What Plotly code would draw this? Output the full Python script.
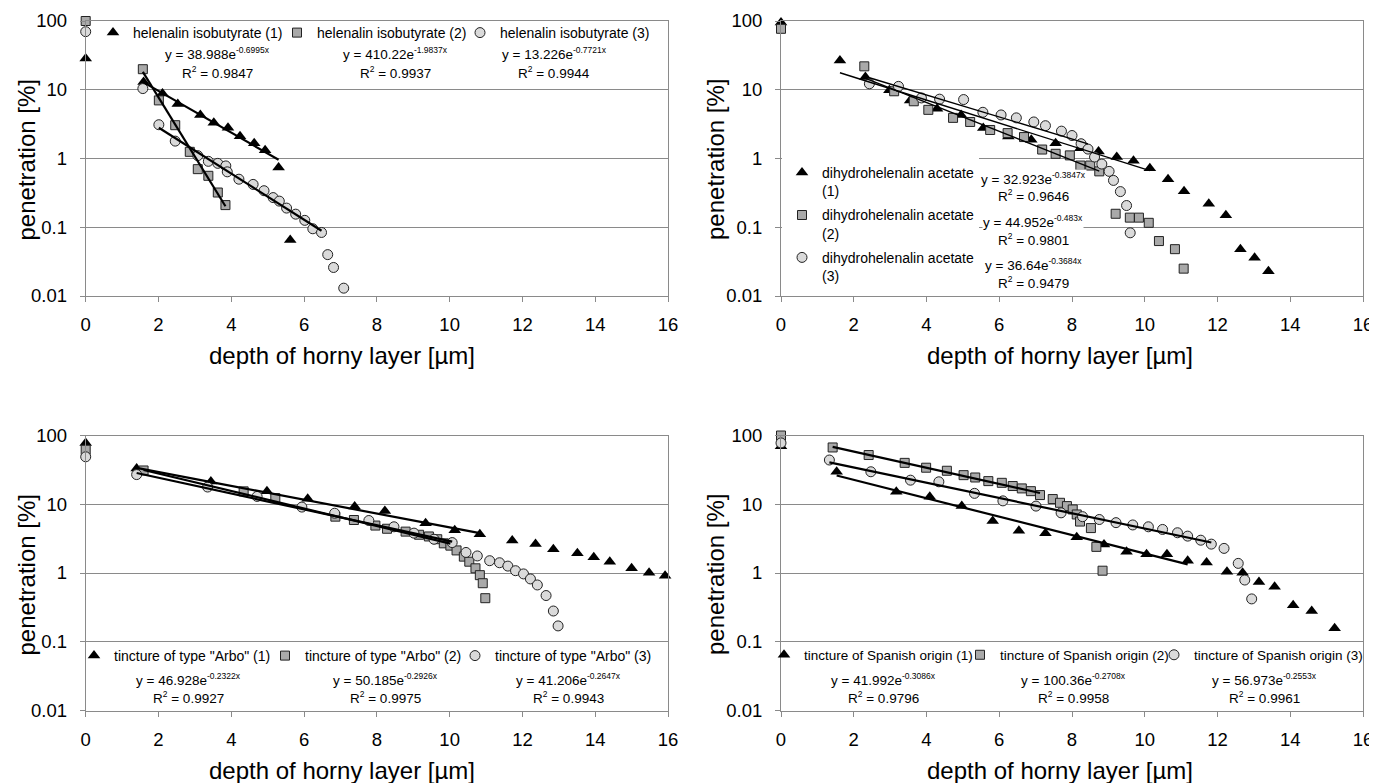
import numpy as np
import plotly.graph_objects as go

# The page body has an 8 px margin, so the figure is drawn 8 px in from the
# window corner; the figure is sized to fill the rest of the 1377x783 window.
OFF = 8
W, H = 1377 - OFF, 783 - OFF
FONT = "Liberation Sans, Arial, sans-serif"
GRID = "#8a8a8a"

# ---------------- data ----------------
x_ticks = [0, 2, 4, 6, 8, 10, 12, 14, 16]
y_ticks = [0.01, 0.1, 1, 10, 100]
y_ticktext = ["0.01", "0.1", "1", "10", "100"]

# Panel A: helenalin isobutyrate
hi_names = ["helenalin isobutyrate (1)", "helenalin isobutyrate (2)", "helenalin isobutyrate (3)"]
hi1_x = [0, 1.59, 2.11, 2.53, 3.15, 3.52, 3.91, 4.24, 4.63, 4.93, 5.30, 5.62]
hi1_y = [28.4, 13.0, 8.8, 6.2, 4.3, 3.3, 2.8, 2.1, 1.66, 1.32, 0.74, 0.065]
hi2_x = [0, 1.57, 2.01, 2.46, 2.86, 3.08, 3.37, 3.63, 3.84]
hi2_y = [100, 19.9, 7.0, 3.05, 1.25, 0.70, 0.56, 0.32, 0.21]
hi3_x = [0, 1.57, 2.01, 2.46, 3.08, 3.37, 3.63, 3.85, 3.89, 4.21, 4.60, 4.90, 5.15,
         5.32, 5.52, 5.77, 6.02, 6.24, 6.48, 6.65, 6.81, 7.09]
hi3_y = [70, 10.4, 3.1, 1.79, 1.1, 0.91, 0.85, 0.78, 0.64, 0.50, 0.42, 0.34, 0.27,
         0.24, 0.19, 0.155, 0.126, 0.095, 0.084, 0.040, 0.026, 0.013]
hi_fit_a = [38.988, 410.22, 13.226]
hi_fit_b = [-0.6995, -1.9837, -0.7721]
hi_fit_r2 = ["0.9847", "0.9937", "0.9944"]
hi_fit_from = [1.59, 1.57, 2.01]
hi_fit_to = [5.30, 3.84, 6.48]

# Panel B: dihydrohelenalin acetate
dh_names = ["dihydrohelenalin acetate<br>(1)", "dihydrohelenalin acetate<br>(2)",
            "dihydrohelenalin acetate<br>(3)"]
dh1_x = [0, 1.62, 2.32, 2.98, 3.55, 4.29, 4.95, 5.56, 6.25, 6.88, 7.55, 8.23, 8.73, 9.23,
         9.69, 10.14, 10.64, 11.08, 11.76, 12.23, 12.63, 13.02, 13.40]
dh1_y = [95, 26.7, 15.3, 9.8, 7.0, 5.3, 4.3, 2.77, 2.09, 1.87, 1.67, 1.41, 1.26, 1.05,
         0.93, 0.72, 0.50, 0.335, 0.22, 0.15, 0.048, 0.036, 0.023]
dh2_x = [0, 2.29, 3.11, 3.65, 4.05, 4.73, 5.20, 5.75, 6.23, 6.68, 7.18, 7.55, 7.94, 8.23,
         8.50, 8.75, 9.20, 9.59, 9.84, 10.11, 10.39, 10.83, 11.07]
dh2_y = [77, 21.9, 9.5, 6.8, 5.1, 3.9, 3.4, 2.6, 2.34, 2.05, 1.35, 1.17, 1.11, 0.79,
         0.79, 0.65, 0.157, 0.138, 0.138, 0.116, 0.063, 0.048, 0.025]
dh3_x = [2.43, 3.23, 3.86, 4.36, 5.02, 5.55, 6.05, 6.47, 6.95, 7.27, 7.71, 8.00, 8.25,
         8.44, 8.62, 8.82, 9.02, 9.14, 9.33, 9.50, 9.60]
dh3_y = [12.2, 11.2, 7.6, 7.3, 7.2, 4.7, 4.3, 3.9, 3.4, 3.0, 2.5, 2.16, 1.64, 1.37,
         1.05, 0.83, 0.65, 0.48, 0.33, 0.207, 0.083]
dh_fit_a = [32.923, 44.952, 36.64]
dh_fit_b = [-0.3847, -0.483, -0.3684]
dh_fit_r2 = ["0.9646", "0.9801", "0.9479"]
dh_fit_from = [1.62, 2.29, 2.43]
dh_fit_to = [10.14, 8.75, 8.44]

# Panel C: tincture of type "Arbo"
ta_names = ['tincture of type "Arbo" (1)', 'tincture of type "Arbo" (2)',
            'tincture of type "Arbo" (3)']
ta1_x = [0, 1.40, 3.44, 4.98, 6.10, 7.39, 8.22, 9.34, 10.14, 10.83, 11.72, 12.36, 12.85,
         13.51, 13.96, 14.40, 15.0, 15.48, 15.92]
ta1_y = [78, 33, 21.5, 15.4, 12.0, 9.3, 8.0, 5.3, 4.2, 3.67, 2.97, 2.65, 2.22, 1.94, 1.70,
         1.46, 1.17, 1.01, 0.91]
ta2_x = [0, 1.59, 4.34, 5.21, 6.86, 7.37, 7.96, 8.28, 8.79, 9.16, 9.43, 9.66, 9.84, 10.02,
         10.19, 10.39, 10.54, 10.71, 10.83, 10.91, 10.98]
ta2_y = [62, 31, 15.4, 12.3, 6.6, 5.9, 4.9, 4.4, 4.0, 3.6, 3.4, 3.1, 2.7, 2.5, 2.13, 1.73,
         1.46, 1.17, 0.93, 0.71, 0.43]
ta3_x = [0, 1.40, 3.35, 4.71, 5.94, 6.84, 7.78, 8.47, 9.02, 9.57, 10.07, 10.45, 10.76,
         11.10, 11.37, 11.60, 11.81, 12.03, 12.22, 12.41, 12.65, 12.85, 12.98]
ta3_y = [49, 27, 17.8, 13.0, 9.1, 7.4, 5.8, 4.7, 3.8, 3.1, 2.77, 1.99, 1.77, 1.51, 1.41,
         1.26, 1.08, 0.97, 0.82, 0.67, 0.47, 0.28, 0.17]
ta_fit_a = [46.928, 50.185, 41.206]
ta_fit_b = [-0.2322, -0.2926, -0.2647]
ta_fit_r2 = ["0.9927", "0.9975", "0.9943"]
ta_fit_from = [1.40, 1.59, 1.40]
ta_fit_to = [10.83, 10.02, 10.07]

# Panel D: tincture of Spanish origin
ts_names = ["tincture of Spanish origin (1)", "tincture of Spanish origin (2)",
            "tincture of Spanish origin (3)"]
ts1_x = [0, 1.53, 3.17, 4.09, 4.97, 5.82, 6.54, 7.27, 8.13, 8.88, 9.50, 10.05, 10.61,
         11.18, 11.70, 12.26, 12.69, 13.14, 13.57, 14.08, 14.59, 15.22]
ts1_y = [70, 29.7, 15.2, 12.9, 9.4, 5.7, 4.1, 3.8, 3.3, 2.6, 2.04, 1.88, 1.88, 1.51, 1.42,
         1.04, 1.01, 0.74, 0.63, 0.34, 0.28, 0.157]
ts2_x = [0, 1.42, 2.41, 3.40, 3.99, 4.56, 5.02, 5.34, 5.70, 6.07, 6.37, 6.62, 6.87, 7.12,
         7.47, 7.67, 7.86, 8.02, 8.13, 8.22, 8.52, 8.67, 8.84]
ts2_y = [100, 67, 52, 40, 34, 30.7, 26.5, 24.5, 21.7, 20.5, 18.4, 17.0, 15.5, 13.6, 11.9,
         10.5, 9.4, 8.4, 7.1, 5.6, 4.5, 2.4, 1.08]
ts3_x = [0, 1.33, 2.47, 3.56, 4.34, 5.32, 6.10, 7.01, 7.70, 8.29, 8.75, 9.21, 9.67, 10.10,
         10.49, 10.90, 11.18, 11.54, 11.83, 12.18, 12.57, 12.75, 12.94]
ts3_y = [78, 44, 29.7, 22.4, 21.2, 14.4, 11.2, 9.4, 7.5, 6.6, 6.0, 5.4, 5.0, 4.7, 4.3, 3.85,
         3.44, 3.0, 2.63, 2.28, 1.38, 0.79, 0.42]
ts_fit_a = [41.992, 100.36, 56.973]
ts_fit_b = [-0.3086, -0.2708, -0.2553]
ts_fit_r2 = ["0.9796", "0.9958", "0.9961"]
ts_fit_from = [1.53, 1.42, 1.33]
ts_fit_to = [11.18, 7.12, 11.83]

x_title = "depth of horny layer [µm]"
y_title = "penetration [%]"


# ---------------- layout helpers (window pixels -> paper fractions) ----------------
def px(x):
    return (x - OFF) / W


def py(y):
    return 1 - (y - OFF) / H


MARKERS = [
    dict(symbol="triangle-up", size=11, color="black", line=dict(width=0)),
    dict(symbol="square", size=9, color="#a9a9a9", line=dict(width=1, color="#222")),
    dict(symbol="circle", size=10, color="#dadada", line=dict(width=1, color="#222")),
]

legends = {}

panels = [
    dict(names=hi_names, xs=[hi1_x, hi2_x, hi3_x], ys=[hi1_y, hi2_y, hi3_y],
         a=hi_fit_a, b=hi_fit_b, r2=hi_fit_r2, x0=hi_fit_from, x1=hi_fit_to,
         ax="", lw=2.2, leg_x=[93, 277, 460], leg_y=33, leg_fs=14,
         eq_pos=[(217, 53), (395, 53), (554, 53)], eq_dy=19.5),
    dict(names=dh_names, xs=[dh1_x, dh2_x, dh3_x], ys=[dh1_y, dh2_y, dh3_y],
         a=dh_fit_a, b=dh_fit_b, r2=dh_fit_r2, x0=dh_fit_from, x1=dh_fit_to,
         ax="2", lw=1.4, leg_x=None, leg_fs=14,
         eq_pos=[(1033, 178), (1033, 221.5), (1033, 265)], eq_dy=17.5),
    dict(names=ta_names, xs=[ta1_x, ta2_x, ta3_x], ys=[ta1_y, ta2_y, ta3_y],
         a=ta_fit_a, b=ta_fit_b, r2=ta_fit_r2, x0=ta_fit_from, x1=ta_fit_to,
         ax="3", lw=2.2, leg_x=[74, 265, 455], leg_y=656, leg_fs=14,
         eq_pos=[(188, 679), (385, 679), (568, 679)], eq_dy=18),
    dict(names=ts_names, xs=[ts1_x, ts2_x, ts3_x], ys=[ts1_y, ts2_y, ts3_y],
         a=ts_fit_a, b=ts_fit_b, r2=ts_fit_r2, x0=ts_fit_from, x1=ts_fit_to,
         ax="4", lw=2.2, leg_x=[764, 960, 1154], leg_y=655, leg_fs=13.5,
         eq_pos=[(883, 679), (1073, 679), (1264, 679)], eq_dy=18),
]

fig = go.Figure()
annotations = []
leg_counter = 2  # "legend" is the vertical legend of panel B

for p in panels:
    xa = "x" + p["ax"]
    ya = "y" + p["ax"]
    lfont = dict(family=FONT, size=p["leg_fs"], color="black")
    for i in range(3):
        if p["leg_x"] is None:
            leg_id = "legend"
        else:
            leg_id = f"legend{leg_counter}"
            leg_counter += 1
            legends[leg_id] = dict(
                orientation="h", x=px(p["leg_x"][i]), y=py(p["leg_y"]),
                xanchor="left", yanchor="middle", xref="paper", yref="paper",
                bgcolor="rgba(0,0,0,0)", font=lfont, itemwidth=30)
        fig.add_trace(go.Scatter(
            x=p["xs"][i], y=p["ys"][i], mode="markers", name=p["names"][i],
            marker=MARKERS[i], xaxis=xa, yaxis=ya, legend=leg_id,
            legendgroup=f"{xa}_{i}", cliponaxis=False,
        ))
    for i in range(3):
        fx = np.array([p["x0"][i], p["x1"][i]])
        fy = p["a"][i] * np.exp(p["b"][i] * fx)
        fig.add_trace(go.Scatter(
            x=fx, y=fy, mode="lines", line=dict(color="black", width=p["lw"]),
            xaxis=xa, yaxis=ya, showlegend=False, hoverinfo="skip",
        ))
    for i in range(3):
        cx, cy = p["eq_pos"][i]
        annotations.append(dict(
            x=px(cx), y=py(cy), xref="paper", yref="paper", showarrow=False,
            text=f"y = {p['a'][i]}e<sup><span style='font-size:8.5px'>{p['b'][i]}x</span></sup>",
            font=dict(family=FONT, size=13.5, color="black"),
            bgcolor="white", borderpad=0, xanchor="center", yanchor="middle",
        ))
        annotations.append(dict(
            x=px(cx), y=py(cy + p["eq_dy"]), xref="paper", yref="paper", showarrow=False,
            text=f"R<sup><span style='font-size:8.5px'>2</span></sup> = {p['r2'][i]}",
            font=dict(family=FONT, size=13.5, color="black"),
            bgcolor="white", borderpad=0, xanchor="center", yanchor="middle",
        ))

# axis titles (centred on each chart area, as in the original)
for (tx, ty) in [(342, 356), (1060, 356), (342, 770), (1060, 770)]:
    annotations.append(dict(x=px(tx), y=py(ty), xref="paper", yref="paper", showarrow=False,
                            text=x_title, font=dict(family=FONT, size=24, color="black"),
                            xanchor="center", yanchor="middle"))
for (tx, ty) in [(25.5, 160), (715, 160), (25.5, 575), (715, 575)]:
    annotations.append(dict(x=px(tx), y=py(ty), xref="paper", yref="paper", showarrow=False,
                            text=y_title, textangle=-90,
                            font=dict(family=FONT, size=24, color="black"),
                            xanchor="center", yanchor="middle"))

xdom_left = [px(85.7), px(668)]
xdom_right = [px(781), px(1363)]
ydom_top = [py(296), py(21)]
ydom_bot = [py(710.5), py(435.5)]


def xaxis(dom, anchor):
    return dict(domain=dom, anchor=anchor, range=[0, 16], tickvals=x_ticks,
                ticks="outside", ticklen=5, tickcolor=GRID, tickwidth=1,
                showgrid=False, zeroline=False, showline=True, linecolor=GRID,
                linewidth=1, mirror=True, ticklabelstandoff=7, automargin=False,
                tickfont=dict(family=FONT, size=18.5, color="black"))


def yaxis(dom, anchor):
    return dict(domain=dom, anchor=anchor, type="log", range=[-2, 2], tickvals=y_ticks,
                ticktext=y_ticktext, ticks="outside", ticklen=5, tickcolor=GRID,
                tickwidth=1, showgrid=True, gridcolor=GRID, gridwidth=1, zeroline=False,
                showline=True, linecolor=GRID, linewidth=1, mirror=True,
                ticklabelstandoff=9, automargin=False,
                tickfont=dict(family=FONT, size=18.5, color="black"))


fig.update_layout(
    width=W, height=H,
    margin=dict(l=0, r=0, t=0, b=0, autoexpand=False),
    paper_bgcolor="white", plot_bgcolor="white",
    font=dict(family=FONT, color="black"),
    xaxis=xaxis(xdom_left, "y"), yaxis=yaxis(ydom_top, "x"),
    xaxis2=xaxis(xdom_right, "y2"), yaxis2=yaxis(ydom_top, "x2"),
    xaxis3=xaxis(xdom_left, "y3"), yaxis3=yaxis(ydom_bot, "x3"),
    xaxis4=xaxis(xdom_right, "y4"), yaxis4=yaxis(ydom_bot, "x4"),
    legend=dict(orientation="v", x=px(782), y=py(157), xanchor="left", yanchor="top",
                xref="paper", yref="paper", bgcolor="white",
                font=dict(family=FONT, size=14, color="black"),
                valign="top", traceorder="grouped", tracegroupgap=3, itemwidth=30),
    annotations=annotations,
    showlegend=True,
)
fig.update_layout(**legends)

fig.write_html("out.html")
